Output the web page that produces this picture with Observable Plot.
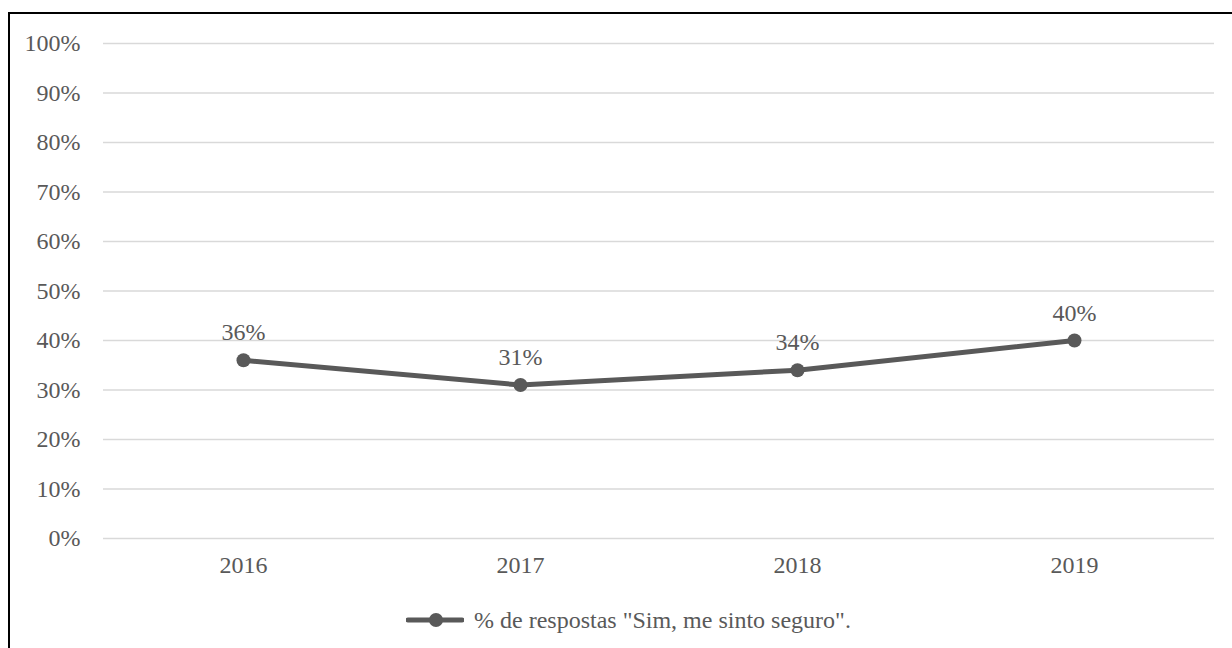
<!DOCTYPE html>
<html>
<head>
<meta charset="utf-8">
<script src="https://cdn.jsdelivr.net/npm/d3@7"></script>
<script src="https://cdn.jsdelivr.net/npm/@observablehq/plot@0.6"></script>
<style>
  html, body { margin: 0; padding: 0; background: #fff; width: 1232px; height: 648px; overflow: hidden; }
  #frame { position: absolute; left: 8px; top: 12px; width: 1260px; height: 680px; border: 2px solid #000; box-sizing: border-box; }
  #chart { position: absolute; left: 0; top: 0; }
  #legend { position: absolute; left: 406px; top: 606px; height: 28px; display: flex; align-items: center; gap: 10px;
            font-family: "Liberation Serif", "Times New Roman", serif; font-size: 24px; color: #595959; white-space: nowrap; }
</style>
</head>
<body>
<div id="frame"></div>
<div id="chart"></div>
<div id="legend">
  <svg width="58" height="20" viewBox="0 0 58 20">
    <line x1="2" y1="10" x2="56" y2="10" stroke="#595959" stroke-width="5" stroke-linecap="round"></line>
    <circle cx="30" cy="10" r="7" fill="#595959"></circle>
  </svg>
  <span>% de respostas "Sim, me sinto seguro".</span>
</div>
<script>
// Share of "yes, I feel safe" answers by survey year
const years = ["2016", "2017", "2018", "2019"];
const shares = [0.36, 0.31, 0.34, 0.40];
const yTicks = [0, 0.1, 0.2, 0.3, 0.4, 0.5, 0.6, 0.7, 0.8, 0.9, 1.0];

const data = years.map((year, i) => ({year, share: shares[i]}));
const ink = "#595959";
const pct = d => `${Math.round(d * 100)}%`;

const chart = Plot.plot({
  width: 1232,
  height: 590,
  marginLeft: 103,
  marginRight: 18,
  marginTop: 43,
  marginBottom: 52,
  style: {fontFamily: "'Liberation Serif', 'Times New Roman', serif", fontSize: "24px", color: ink, background: "transparent"},
  x: {type: "point", domain: years, padding: 0.5, label: null},
  y: {domain: [0, 1], label: null},
  marks: [
    Plot.gridY(yTicks, {stroke: "#d9d9d9", strokeOpacity: 1, strokeWidth: 1.6}),
    Plot.axisY(yTicks, {tickSize: 0, tickPadding: 23, tickFormat: pct, fill: ink, fontSize: 24, label: null}),
    Plot.axisX(years, {tickSize: 0, tickPadding: 0, dy: 17, fill: ink, fontSize: 24, label: null}),
    Plot.line(data, {x: "year", y: "share", stroke: ink, strokeWidth: 5}),
    Plot.dot(data, {x: "year", y: "share", r: 7, fill: ink}),
    Plot.text(data, {x: "year", y: "share", text: d => pct(d.share), lineAnchor: "bottom", dy: -20, fill: ink, fontSize: 24})
  ]
});
document.getElementById("chart").append(chart);
</script>
</body>
</html>
